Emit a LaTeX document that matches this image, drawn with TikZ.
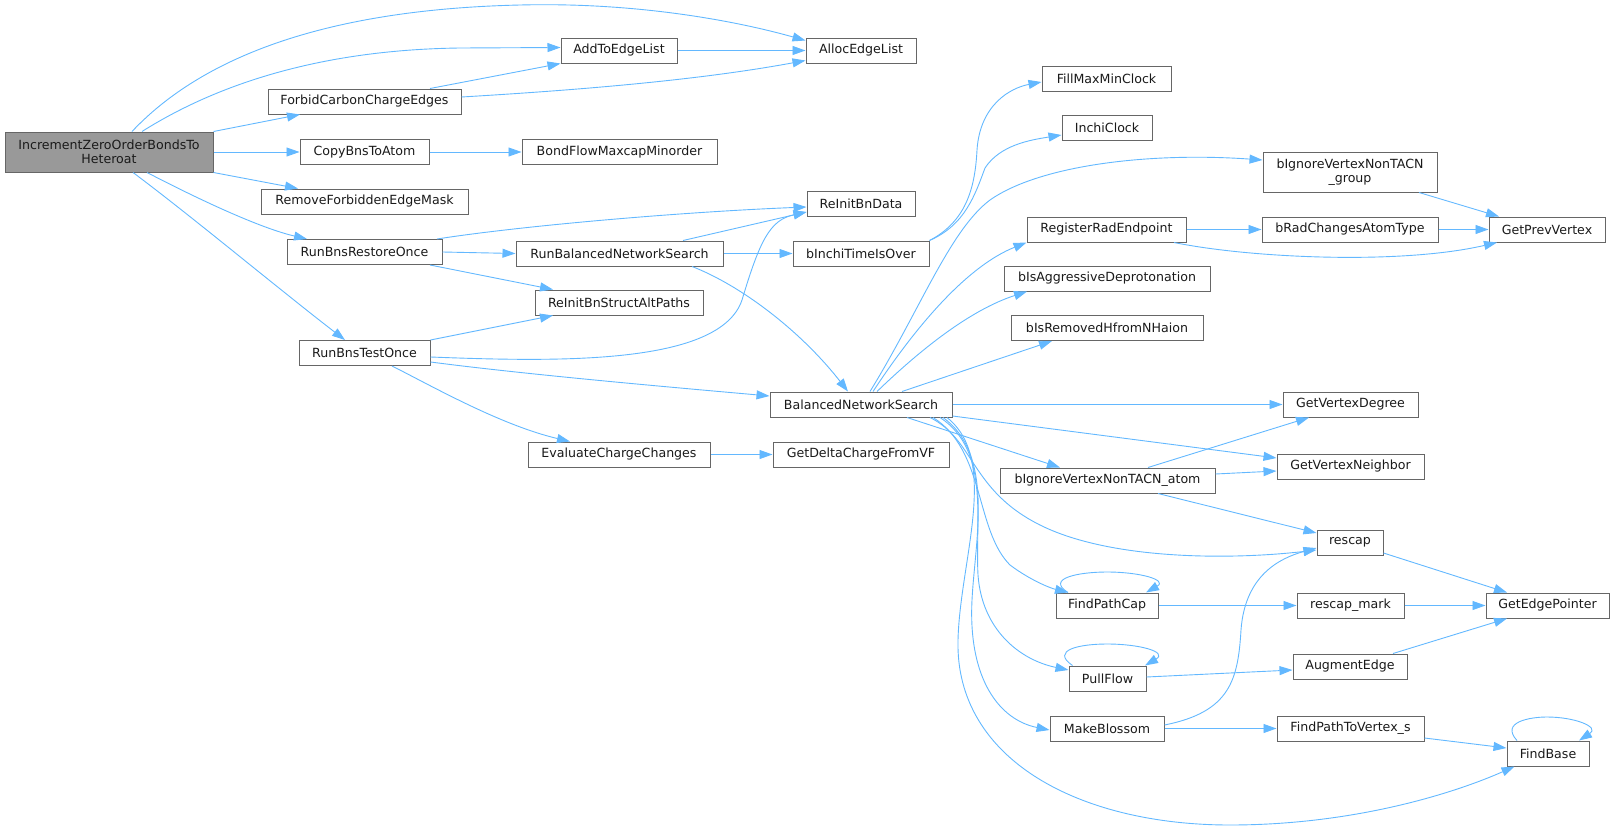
\documentclass[tikz,border=0pt]{standalone}
\usepackage{fontspec}
\setmainfont{DejaVu Sans}
\usetikzlibrary{arrows.meta}
\definecolor{edgec}{HTML}{63B8FF}
\definecolor{nodeb}{HTML}{666666}
\definecolor{incf}{HTML}{999999}
\definecolor{txtc}{HTML}{1A1A1A}
\begin{document}
\begin{tikzpicture}[x=1pt,y=-1pt,
  fn/.style={draw=nodeb, line width=1pt, fill=white, rectangle, inner xsep=1pt, inner ysep=0pt,
    minimum height=25pt, text=txtc, align=center, font=\fontsize{12.6}{14.5}\selectfont},
  fn2/.style={fn, minimum height=40pt},
  e/.style={draw=edgec, line width=0.9pt, -{Triangle[length=13pt,width=9pt]}}]
\useasboundingbox (0,0) rectangle (1615,830);
% nodes
\node[fn2, fill=incf, minimum width=208pt] (inc) at (109,152) {IncrementZeroOrderBondsTo\\Heteroat};
\node[fn, minimum width=110pt] (alloc) at (861,50.5) {AllocEdgeList};
\node[fn, minimum width=116pt] (add) at (619,50.5) {AddToEdgeList};
\node[fn, minimum width=193pt] (forbid) at (364.5,101.5) {ForbidCarbonChargeEdges};
\node[fn, minimum width=129pt] (copy) at (364.5,152) {CopyBnsToAtom};
\node[fn, minimum width=195pt] (bond) at (619.5,152) {BondFlowMaxcapMinorder};
\node[fn, minimum width=207pt] (remove) at (364.5,201.5) {RemoveForbiddenEdgeMask};
\node[fn, minimum width=155pt] (restore) at (364.5,252) {RunBnsRestoreOnce};
\node[fn, minimum width=108pt] (reinitdata) at (861,204) {ReInitBnData};
\node[fn, minimum width=207pt] (runbal) at (619.5,253.5) {RunBalancedNetworkSearch};
\node[fn, minimum width=136pt] (inchitime) at (861,253.5) {bInchiTimeIsOver};
\node[fn, minimum width=168pt] (altpaths) at (619,302.5) {ReInitBnStructAltPaths};
\node[fn, minimum width=131pt] (testonce) at (364.5,353) {RunBnsTestOnce};
\node[fn, minimum width=182pt] (bns) at (861,404.5) {BalancedNetworkSearch};
\node[fn, minimum width=182pt] (evaluate) at (619,454.5) {EvaluateChargeChanges};
\node[fn, minimum width=176pt] (delta) at (861,454.5) {GetDeltaChargeFromVF};
\node[fn, minimum width=129pt] (fillmax) at (1106.5,78.5) {FillMaxMinClock};
\node[fn, minimum width=90pt] (inchiclock) at (1107,128) {InchiClock};
\node[fn2, minimum width=174pt] (igngroup) at (1350,172) {bIgnoreVertexNonTACN\\\_group};
\node[fn, minimum width=159pt] (regrad) at (1106.5,229.5) {RegisterRadEndpoint};
\node[fn, minimum width=176pt] (bradch) at (1350,229.5) {bRadChangesAtomType};
\node[fn, minimum width=116pt] (getprev) at (1547,229.5) {GetPrevVertex};
\node[fn, minimum width=206pt] (aggr) at (1107,278.5) {bIsAggressiveDeprotonation};
\node[fn, minimum width=192pt] (remh) at (1107,328) {bIsRemovedHfromNHaion};
\node[fn, minimum width=135pt] (getdeg) at (1350.5,404.5) {GetVertexDegree};
\node[fn, minimum width=147pt] (getnb) at (1350.5,466.5) {GetVertexNeighbor};
\node[fn, minimum width=215pt] (ignatom) at (1107.5,480.5) {bIgnoreVertexNonTACN\_atom};
\node[fn, minimum width=66pt] (rescap) at (1350,542.5) {rescap};
\node[fn, minimum width=102pt] (findpathcap) at (1107,605.5) {FindPathCap};
\node[fn, minimum width=107pt] (rescapmark) at (1350.5,605.5) {rescap\_mark};
\node[fn, minimum width=123pt] (getedge) at (1547.5,605.5) {GetEdgePointer};
\node[fn, minimum width=77pt] (pullflow) at (1107.5,678.5) {PullFlow};
\node[fn, minimum width=114pt] (augment) at (1350,666.5) {AugmentEdge};
\node[fn, minimum width=114pt] (makeblossom) at (1107,728.5) {MakeBlossom};
\node[fn, minimum width=147pt] (findpathvs) at (1350.5,728.5) {FindPathToVertex\_s};
\node[fn, minimum width=82pt] (findbase) at (1548,753.5) {FindBase};
% edges
\draw[e] ([xshift=23pt]inc.north) .. controls (190,70) and (300,10) .. (520,5) .. controls (640,2) and (740,22) .. ([yshift=10pt]alloc.west);
\draw[e] ([xshift=33pt]inc.north) .. controls (200,95) and (300,50) .. (460,48) -- ([yshift=3pt]add.west);
\draw[e] (inc.north east) -- ([xshift=-64.5pt]forbid.south);
\draw[e] (inc.east) -- (copy.west);
\draw[e] (inc.south east) -- ([xshift=-66.5pt]remove.north);
\draw[e] ([xshift=38pt]inc.south) .. controls (200,200) and (260,228) .. ([xshift=-57.5pt]restore.north);
\draw[e] ([xshift=24pt]inc.south) .. controls (190,215) and (280,290) .. ([xshift=-19.5pt]testonce.north);
\draw[e] ([xshift=65.5pt]forbid.north) -- (add.south west);
\draw[e] ([yshift=4.5pt]forbid.east) .. controls (580,90) and (700,80) .. ([yshift=-10pt]alloc.west);
\draw[e] (add.east) -- (alloc.west);
\draw[e] (copy.east) -- (bond.west);
\draw[e] ([xshift=72.5pt]restore.north) .. controls (520,226) and (680,212) .. ([yshift=-3pt]reinitdata.west);
\draw[e] (restore.east) -- (runbal.west);
\draw[e] ([xshift=65.5pt]restore.south) -- ([xshift=-66pt]altpaths.north);
\draw[e] ([xshift=63.5pt]runbal.north) -- ([yshift=-8pt]reinitdata.west);
\draw[e] (runbal.east) -- (inchitime.west);
\draw[e] ([xshift=72.5pt]runbal.south) .. controls (740,285) and (800,330) .. ([xshift=-13pt]bns.north);
\draw[e] (testonce.north east) -- ([xshift=-66pt]altpaths.south);
\draw[e] ([yshift=-4pt]testonce.east) .. controls (560,362) and (720,365) .. (742,300) .. controls (760,240) and (770,220) .. ([yshift=-8pt]reinitdata.west);
\draw[e] ([yshift=-9pt]testonce.east) .. controls (530,375) and (680,388) .. ([yshift=8.5pt]bns.west);
\draw[e] ([xshift=27.5pt]testonce.south) .. controls (430,385) and (500,425) .. ([xshift=-49pt]evaluate.north);
\draw[e] (evaluate.east) -- (delta.west);
\draw[e] (inchitime.north east) .. controls (965,222) and (975,190) .. (977,150) .. controls (980,105) and (1010,88) .. ([yshift=-3.5pt]fillmax.west);
\draw[e] (inchitime.north east) .. controls (965,225) and (975,195) .. (985,168) .. controls (1000,145) and (1030,140) .. ([yshift=-7pt]inchiclock.west);
\draw[e] ([xshift=9pt]bns.north) .. controls (920,310) and (950,230) .. (990,200) .. controls (1040,165) and (1150,152) .. ([yshift=12pt]igngroup.west);
\draw[e] ([xshift=12pt]bns.north) .. controls (920,320) and (970,265) .. (regrad.south west);
\draw[e] ([xshift=16pt]bns.north) .. controls (920,350) and (970,310) .. ([xshift=-80pt]aggr.south);
\draw[e] ([xshift=41pt]bns.north) -- ([xshift=-55pt]remh.south);
\draw[e] (bns.east) -- (getdeg.west);
\draw[e] ([yshift=-11.5pt]bns.east) -- ([yshift=8.5pt]getnb.west);
\draw[e] ([xshift=46pt]bns.south) -- ([xshift=-47.5pt]ignatom.north);
\draw[e] ([xshift=69pt]bns.south) .. controls (975,440) and (970,490) .. (1040,525) .. controls (1110,560) and (1230,560) .. ([yshift=-7.5pt]rescap.west);
\draw[e] ([xshift=72pt]bns.south) .. controls (985,450) and (975,530) .. (1010,565) .. controls (1030,580) and (1050,588) .. ([xshift=-39pt]findpathcap.north);
\draw[e] ([xshift=79pt]bns.south) .. controls (990,450) and (975,520) .. (978,575) .. controls (982,630) and (1020,660) .. ([yshift=8.5pt]pullflow.west);
\draw[e] ([xshift=82pt]bns.south) .. controls (995,455) and (975,540) .. (972,600) .. controls (968,680) and (1000,720) .. ([yshift=-1.5pt]makeblossom.west);
\draw[e] ([xshift=86pt]bns.south) .. controls (1000,460) and (960,560) .. (958,640) .. controls (955,760) and (1080,825) .. (1230,825) .. controls (1350,825) and (1450,795) .. ([xshift=8pt]findbase.south west);
\draw[e] ([xshift=69pt]igngroup.south) -- ([xshift=-48pt]getprev.north);
\draw[e] (regrad.east) -- (bradch.west);
\draw[e] ([xshift=67.5pt]regrad.south) .. controls (1250,258) and (1400,265) .. ([xshift=-50pt]getprev.south);
\draw[e] (bradch.east) -- (getprev.west);
\draw[e] ([xshift=40.5pt]ignatom.north) -- ([xshift=-41.5pt]getdeg.south);
\draw[e] ([yshift=6.5pt]ignatom.east) -- ([yshift=-4.5pt]getnb.west);
\draw[e] ([xshift=50.5pt]ignatom.south) -- ([yshift=9.5pt]rescap.west);
\draw[e] ([yshift=-10.5pt]rescap.east) -- ([xshift=-40.5pt]getedge.north);
\draw[e] ([xshift=-39pt]findpathcap.north) .. controls (1045,578) and (1080,572) .. (1107,572) .. controls (1140,572) and (1168,580) .. ([xshift=39pt]findpathcap.north);
\draw[e] (findpathcap.east) -- (rescapmark.west);
\draw[e] (rescapmark.east) -- (getedge.west);
\draw[e] ([xshift=-35pt]pullflow.north) .. controls (1050,650) and (1080,644) .. (1107,644) .. controls (1140,644) and (1168,652) .. ([xshift=37.5pt]pullflow.north);
\draw[e] ([yshift=1.5pt]pullflow.east) -- ([yshift=-3.5pt]augment.west);
\draw[e] ([xshift=43pt]augment.north) -- ([xshift=-40.5pt]getedge.south);
\draw[e] ([yshift=3.5pt]makeblossom.east) .. controls (1230,712) and (1238,680) .. (1241,630) .. controls (1245,575) and (1280,558) .. ([yshift=-5.5pt]rescap.west);
\draw[e] (makeblossom.east) -- (findpathvs.west);
\draw[e] ([yshift=-9.5pt]findpathvs.east) -- ([yshift=5.5pt]findbase.west);
\draw[e] ([xshift=-31pt]findbase.north) .. controls (1500,722) and (1530,717) .. (1547,717) .. controls (1575,717) and (1600,727) .. ([xshift=31pt]findbase.north);
\end{tikzpicture}
\end{document}
